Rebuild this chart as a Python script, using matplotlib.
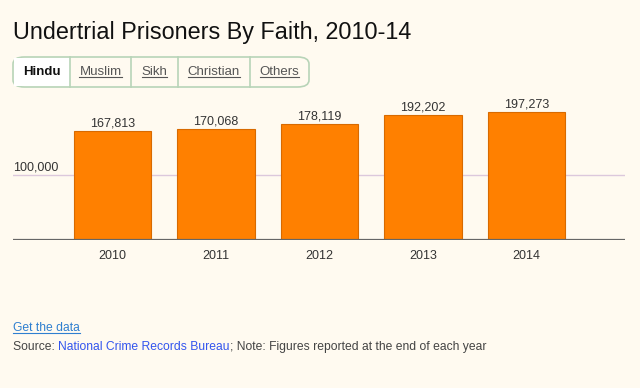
import matplotlib
matplotlib.use('Agg')
import matplotlib.pyplot as plt
from matplotlib.patches import FancyBboxPatch, Rectangle
from matplotlib.lines import Line2D

years = ['2010', '2011', '2012', '2013', '2014']
prisoners = [167813, 170068, 178119, 192202, 197273]
tabs = ['Hindu', 'Muslim', 'Sikh', 'Christian', 'Others']
tab_edges = [13, 70, 131, 178, 250, 309]  # pixel x of tab borders

plt.rcParams['font.family'] = ['Liberation Sans', 'DejaVu Sans']
bg = '#fffaf0'
W, H = 640, 388

fig = plt.figure(figsize=(6.4, 3.88), dpi=100, facecolor=bg)

def fx(px):
    return px / W

def fy(py):
    return 1 - py / H

# main plot area
ax = fig.add_axes([fx(13), fy(240), fx(625) - fx(13), fy(97) - fy(240)])
ax.set_facecolor(bg)
xs = list(range(len(years)))
ax.bar(xs, prisoners, width=0.745, color='#ff8000', edgecolor='#d86a00', linewidth=0.8, zorder=3)
ax.set_xlim(-0.96, 4.95)
ax.set_ylim(0, 220000)
ax.axhline(100000, color='#dcc8dc', linewidth=1, zorder=1)
ax.axhline(0, color='#666666', linewidth=1.6, zorder=4)
for s in ax.spines.values():
    s.set_visible(False)
ax.set_yticks([])
ax.set_xticks(xs)
ax.set_xticklabels(years, fontsize=9, color='#333333')
ax.tick_params(axis='x', length=0, pad=7)
for x, v in zip(xs, prisoners):
    ax.text(x, v + 2500, '{:,}'.format(v), ha='center', va='bottom', fontsize=9, color='#333333')
ax.text(-0.955, 103000, '100,000', ha='left', va='bottom', fontsize=9, color='#333333')

# title
fig.text(fx(13), fy(32), 'Undertrial Prisoners By Faith, 2010-14', fontsize=16.8,
         color='#111111', ha='left', va='center')

# tab bar
box = FancyBboxPatch((fx(13), fy(87)), fx(309) - fx(13), fy(57) - fy(87),
                     boxstyle='round,pad=0,rounding_size=0.018', transform=fig.transFigure,
                     facecolor=bg, edgecolor='#b8d4b8', linewidth=1.2)
fig.patches.append(box)
fig.patches.append(Rectangle((fx(14), fy(86)), fx(70) - fx(14), fy(58) - fy(86),
                             transform=fig.transFigure, facecolor='#ffffff', edgecolor='none'))
for e in tab_edges[1:-1]:
    fig.lines.append(Line2D([fx(e), fx(e)], [fy(87), fy(57)], transform=fig.transFigure,
                            color='#b8d4b8', linewidth=1.2))

renderer = fig.canvas.get_renderer()

def underline(t, color):
    bb = t.get_window_extent(renderer)
    y = bb.y0 + 1.5
    fig.lines.append(Line2D([bb.x0 / W, bb.x1 / W], [y / H, y / H], transform=fig.transFigure,
                            color=color, linewidth=0.8))

for i, name in enumerate(tabs):
    cx = (tab_edges[i] + tab_edges[i + 1]) / 2
    if i == 0:
        fig.text(fx(cx), fy(72), name, fontsize=9.5, fontweight='bold', color='#111111',
                 ha='center', va='center')
    else:
        t = fig.text(fx(cx), fy(72), name, fontsize=9.5, color='#555555', ha='center', va='center')
        underline(t, '#555555')

# footer
t = fig.text(fx(13), fy(328), 'Get the data', fontsize=8.7, color='#2f7fd0', ha='left', va='center')
underline(t, '#2f7fd0')

parts = [('Source: ', '#444444'), ('National Crime Records Bureau', '#3355ee'),
         ('; Note: Figures reported at the end of each year', '#444444')]
x = 13
for txt, col in parts:
    t = fig.text(fx(x), fy(347), txt, fontsize=8.7, color=col, ha='left', va='center')
    x = t.get_window_extent(renderer).x1

fig.savefig('out.png', dpi=100, facecolor=bg)
